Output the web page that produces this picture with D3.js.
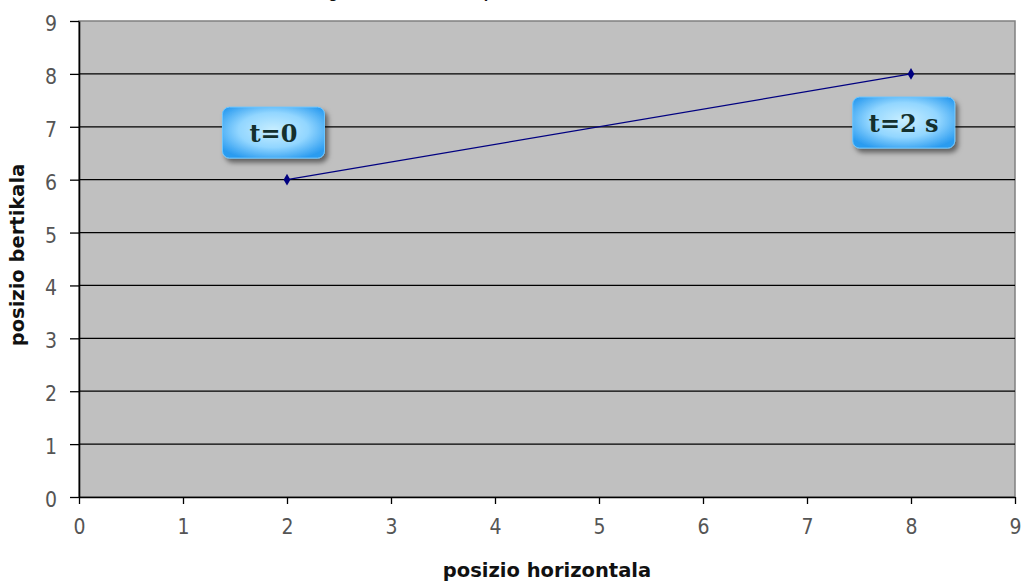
<!DOCTYPE html>
<html><head><meta charset="utf-8">
<script src="https://cdn.jsdelivr.net/npm/d3@7"></script>
<style>body{margin:0;background:#fff;}svg{display:block;}</style>
</head><body>
<svg id="c" width="1021" height="587"></svg>
<script>
const xValues = [2, 8];
const yValues = [6, 8];
const labels = ["t=0", "t=2 s"];
const labelPos = [[1.87, 6.88], [7.93, 7.07]];
const xTicks = [0,1,2,3,4,5,6,7,8,9];
const yTicks = [0,1,2,3,4,5,6,7,8,9];
const title = "Higikariaren ibilbidea: posizioa";
const xTitle = "posizio horizontala";
const yTitle = "posizio bertikala";

const svg = d3.select("#c");
const m = {l:79, r:1015, t:21, b:497};
const x = d3.scaleLinear().domain([0,9]).range([m.l, m.r]);
const y = d3.scaleLinear().domain([0,9]).range([m.b, m.t]);

const defs = svg.append("defs");
const g = defs.append("radialGradient").attr("id","bg").attr("cx","50%").attr("cy","45%").attr("r","62%");
g.append("stop").attr("offset","0%").attr("stop-color","#c8eeff");
g.append("stop").attr("offset","55%").attr("stop-color","#92d6ff");
g.append("stop").attr("offset","100%").attr("stop-color","#2c9cf0");
const f = defs.append("filter").attr("id","sh").attr("x","-20%").attr("y","-20%").attr("width","150%").attr("height","160%");
f.append("feDropShadow").attr("dx",3).attr("dy",4).attr("stdDeviation",2.5).attr("flood-color","#000").attr("flood-opacity",0.5);

svg.append("text").attr("x", 430).attr("y", -2).attr("text-anchor","middle")
  .attr("font-family","Liberation Sans, Arial").attr("font-weight","bold").attr("font-size",16)
  .attr("fill","#111").text(title);

svg.append("rect").attr("x",m.l).attr("y",m.t).attr("width",m.r-m.l).attr("height",m.b-m.t)
  .attr("fill","#c0c0c0").attr("stroke","#808080").attr("stroke-width",1.5);

svg.append("g").selectAll("line").data(yTicks.filter(d=>d>0 && d<9)).join("line")
  .attr("x1",m.l).attr("x2",m.r).attr("y1",d=>y(d)).attr("y2",d=>y(d))
  .attr("stroke","#000").attr("stroke-width",1.2);

const ya = svg.append("g").attr("transform",`translate(${m.l},0)`)
  .call(d3.axisLeft(y).tickValues(yTicks).tickSize(9).tickPadding(13).tickSizeOuter(0));
const xa = svg.append("g").attr("transform",`translate(0,${m.b})`)
  .call(d3.axisBottom(x).tickValues(xTicks).tickSize(7).tickPadding(15).tickSizeOuter(0));
[ya, xa].forEach(a => {
  a.select(".domain").attr("stroke","#000").attr("stroke-width",1.6);
  a.selectAll(".tick line").attr("stroke","#000").attr("stroke-width",1.3);
  a.selectAll(".tick text").attr("font-family","DejaVu Sans Condensed, DejaVu Sans").attr("font-size",21)
    .attr("fill","#555");
});
ya.selectAll(".tick text").attr("dy","0.45em");

svg.append("text").attr("x",(m.l+m.r)/2).attr("y",577).attr("text-anchor","middle")
  .attr("font-family","DejaVu Sans, Liberation Sans").attr("font-weight","bold").attr("font-size",19.5)
  .attr("fill","#111").text(xTitle);
svg.append("text").attr("transform",`translate(24,${(m.t+m.b)/2-4}) rotate(-90)`).attr("text-anchor","middle")
  .attr("font-family","DejaVu Sans, Liberation Sans").attr("font-weight","bold").attr("font-size",19.5)
  .attr("fill","#111").text(yTitle);

const pts = xValues.map((v,i)=>[v, yValues[i]]);
svg.append("path").datum(pts).attr("d", d3.line().x(d=>x(d[0])).y(d=>y(d[1])))
  .attr("fill","none").attr("stroke","#000080").attr("stroke-width",1.3);
svg.append("g").selectAll("path").data(pts).join("path")
  .attr("transform",d=>`translate(${x(d[0])},${y(d[1])})`)
  .attr("d", d3.symbol(d3.symbolDiamond, 40)).attr("fill","#000080");

const lg = svg.append("g").selectAll("g").data(labels).join("g")
  .attr("transform",(d,i)=>`translate(${x(labelPos[i][0])},${y(labelPos[i][1])})`);
lg.append("rect").attr("x",-51).attr("y",-26).attr("width",102).attr("height",51).attr("rx",7)
  .attr("fill","url(#bg)").attr("stroke","#6cc6ff").attr("stroke-width",1).attr("filter","url(#sh)");
lg.append("text").attr("text-anchor","middle").attr("dy","0.36em")
  .attr("font-family","DejaVu Serif, Liberation Serif").attr("font-weight","bold").attr("font-size",24)
  .attr("fill","#14302e").text(d=>d);
</script>
</body></html>
